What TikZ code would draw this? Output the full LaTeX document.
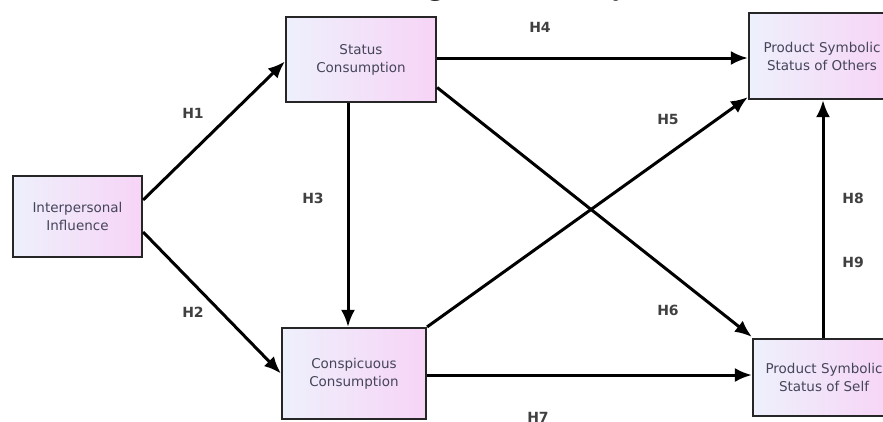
\documentclass[tikz,border=0pt]{standalone}
\usepackage{fontspec}
\setmainfont{Liberation Serif}
\setsansfont{DejaVu Sans}
\usetikzlibrary{arrows.meta,calc}
\definecolor{boxleft}{HTML}{EEF0FC}
\definecolor{boxright}{HTML}{F7D4F6}
\definecolor{boxtext}{HTML}{45455A}
\definecolor{hlabel}{HTML}{404040}
\tikzset{
  construct/.style={rectangle, draw=black!85, line width=2.2pt, inner sep=0pt,
    left color=boxleft, right color=boxright,
    align=center, text=boxtext, font=\sffamily\fontsize{13.5}{18}\selectfont},
  path/.style={draw=black, line width=3pt,
    -{Latex[length=17pt,width=14pt]}},
  hyp/.style={text=hlabel, font=\sffamily\bfseries\fontsize{14}{16}\selectfont},
}
\begin{document}
\begin{tikzpicture}[x=1pt,y=-1pt]
\useasboundingbox (0,0) rectangle (883,421);
\clip (0,0) rectangle (883,421);
\fill[white] (0,0) rectangle (883,421);

% heading, mostly above the visible area
\node[anchor=base, font=\bfseries\fontsize{31}{36}\selectfont] (title) at (435,-5.5) {Research Design of the Study};

% constructs
\node[construct, minimum width=129pt, minimum height=81pt] (intp) at (77.5,216.5) {Interpersonal\\Influence};
\node[construct, minimum width=150pt, minimum height=85pt] (stat) at (361,59.5) {Status\\Consumption};
\node[construct, minimum width=144pt, minimum height=91pt] (consp) at (354,373.5) {Conspicuous\\Consumption};
\node[construct, minimum width=146pt, minimum height=86pt] (others) at (822,56) {Product Symbolic\\Status of Others};
\node[construct, minimum width=142pt, minimum height=77pt] (self) at (824,377.5) {Product Symbolic\\Status of Self};

% hypothesised paths
\draw[path] ([yshift=16.5pt]intp.east) -- ([yshift=-2pt]stat.west);
\draw[path] ([yshift=-15.5pt]intp.east) -- (consp.west);
\draw[path] ([xshift=-13pt]stat.south) -- ([xshift=-13pt]stat.south |- consp.north);
\draw[path] ([yshift=1.5pt]stat.east) -- ([yshift=1.5pt]stat.east -| others.west);
\draw[path] (consp.north east) -- ([yshift=3pt]others.south west);
\draw[path] ([yshift=-28pt]stat.east) -- ([yshift=1pt]self.north west);
\draw[path] ([yshift=-1.5pt]consp.east) -- ([yshift=-1.5pt]consp.east -| self.west);
\draw[path] ([xshift=-1pt]self.north) -- ([xshift=-1pt]self.north |- others.south);

% hypothesis labels
\node[hyp] (h1) at (193,113) {H1};
\node[hyp] (h2) at (193,312) {H2};
\node[hyp] (h3) at (313,198) {H3};
\node[hyp] (h4) at (540,27) {H4};
\node[hyp] (h5) at (668,119) {H5};
\node[hyp] (h6) at (668,310) {H6};
\node[hyp] (h7) at (538,417) {H7};
\node[hyp] (h8) at (853,198) {H8};
\node[hyp] (h9) at (853,262) {H9};
\end{tikzpicture}
\end{document}
